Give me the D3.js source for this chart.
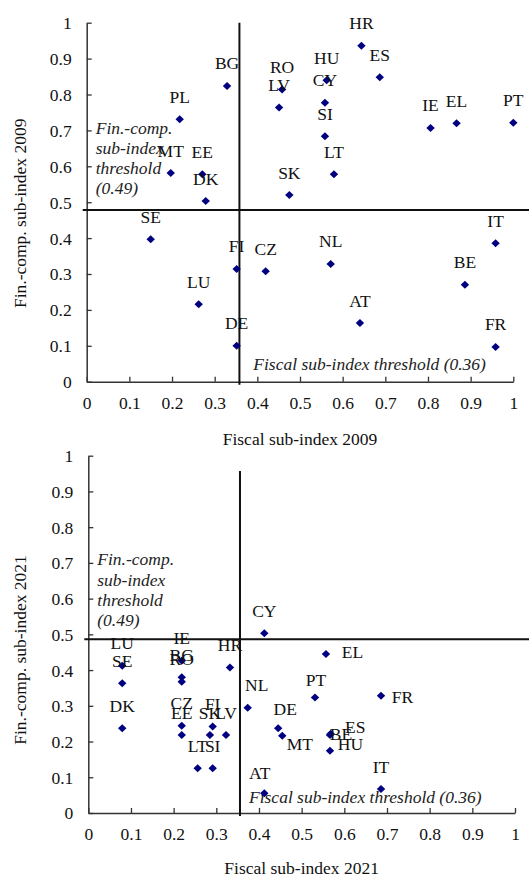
<!DOCTYPE html>
<html>
<head>
<meta charset="utf-8">
<script src="https://cdn.jsdelivr.net/npm/d3@7"></script>
<style>
  html, body { margin: 0; padding: 0; background: #fff; }
  svg { display: block; }
  text { font-family: "Liberation Serif", "Times New Roman", serif; }
</style>
</head>
<body>
<svg id="chart" width="529" height="879"></svg>
<script>
// ---------- Data ----------
const countries2009 = ["HR","ES","RO","LV","HU","CY","SI","LT","SK","IE","EL","PT","BG","PL","MT","EE","DK","SE","FI","LU","DE","CZ","IT","NL","BE","AT","FR"];
const fiscal2009    = [0.644,0.687,0.458,0.451,0.5625,0.5585,0.5585,0.5796,0.475,0.806,0.867,1.0,0.329,0.218,0.197,0.271,0.279,0.150,0.3515,0.2625,0.3515,0.4195,0.9585,0.572,0.8866,0.6405,0.9585];
const fincomp2009   = [0.936,0.848,0.814,0.764,0.840,0.777,0.684,0.578,0.520,0.707,0.720,0.721,0.824,0.731,0.581,0.578,0.503,0.397,0.314,0.2156,0.100,0.3075,0.3855,0.328,0.270,0.1635,0.0967];

const countries2021 = ["CY","LU","SE","DK","IE","BG","RO","CZ","EE","FI","SK","LV","LT","SI","HR","NL","DE","MT","AT","EL","PT","FR","ES","BE","HU","IT"];
const fiscal2021    = [0.4125,0.0795,0.0795,0.0795,0.219,0.219,0.219,0.219,0.219,0.2915,0.285,0.3227,0.2563,0.2915,0.332,0.3735,0.445,0.4546,0.4125,0.557,0.5313,0.686,0.568,0.5664,0.5664,0.686];
const fincomp2021   = [0.503,0.412,0.363,0.237,0.426,0.380,0.367,0.2445,0.218,0.242,0.218,0.218,0.125,0.125,0.407,0.2947,0.237,0.2163,0.055,0.445,0.3235,0.3283,0.222,0.218,0.1744,0.067];

const tickValues = [0,0.1,0.2,0.3,0.4,0.5,0.6,0.7,0.8,0.9,1];
const tickLabels = ["0","0.1","0.2","0.3","0.4","0.5","0.6","0.7","0.8","0.9","1"];

// threshold positions as drawn (fiscal, fin.-comp.)
const thresholds2009 = [0.358, 0.478];
const thresholds2021 = [0.3555, 0.486];
const fincompThresholdText = ["Fin.-comp.", "sub-index", "threshold", "(0.49)"];
const fiscalThresholdText = "Fiscal sub-index threshold (0.36)";

// ---------- Layout (label placement offsets in px, not data) ----------
const labelOffsets2021 = {
  NL: [9, -16.5], DE: [7, -13], MT: [17.5, 14.5], AT: [-4.5, -14],
  EL: [26.5, 3.5], PT: [1, -11], FR: [21.5, 7.5], ES: [24.5, -1],
  BE: [11, 5], HU: [20.5, -0.5]
};
const FS = 17.5;
const svg = d3.select("#chart");

function panel(cfg) {
  const x = d3.scaleLinear().domain([0, 1]).range(cfg.xr);
  const y = d3.scaleLinear().domain([0, 1]).range(cfg.yr);
  const g = svg.append("g");

  // axes
  const xAxis = d3.axisBottom(x).tickValues(tickValues)
    .tickFormat((d, i) => tickLabels[i]).tickSizeInner(-5).tickSizeOuter(0).tickPadding(15);
  const yAxis = d3.axisLeft(y).tickValues(tickValues)
    .tickFormat((d, i) => tickLabels[i]).tickSizeInner(-5).tickSizeOuter(0).tickPadding(15);

  const gx = g.append("g").attr("transform", `translate(0,${cfg.yr[0]})`).call(xAxis);
  const gy = g.append("g").attr("transform", `translate(${cfg.xr[0]},0)`).call(yAxis);
  [gx, gy].forEach(a => {
    a.selectAll("path.domain").attr("stroke", "#333").attr("stroke-width", 1.5);
    a.selectAll(".tick line").attr("stroke", "#333").attr("stroke-width", 1.3);
    a.selectAll(".tick text").attr("font-size", FS).attr("fill", "#111")
      .style("font-family", '"Liberation Serif", serif');
  });
  gy.selectAll(".tick text").attr("dy", "0.34em");

  // threshold lines
  g.append("line")
    .attr("x1", x(0) - 4).attr("x2", 529)
    .attr("y1", y(cfg.th[1])).attr("y2", y(cfg.th[1]))
    .attr("stroke", "#111").attr("stroke-width", 2);
  g.append("line")
    .attr("x1", x(cfg.th[0])).attr("x2", x(cfg.th[0]))
    .attr("y1", y(cfg.vTop)).attr("y2", y(0) + 3)
    .attr("stroke", "#111").attr("stroke-width", 2);

  // threshold annotations
  const ft = g.append("text")
    .attr("x", x(0) + cfg.finDx).attr("y", y(cfg.th[1]) - cfg.finDy)
    .attr("font-size", FS).attr("font-style", "italic").attr("fill", "#222");
  fincompThresholdText.forEach((t, i) => {
    ft.append("tspan").attr("x", x(0) + cfg.finDx).attr("dy", i === 0 ? 0 : 20.3).text(t);
  });
  g.append("text")
    .attr("x", cfg.fisX).attr("y", y(0) - cfg.fisDy)
    .attr("font-size", FS).attr("font-style", "italic").attr("fill", "#222")
    .text(fiscalThresholdText);

  // points
  const data = cfg.names.map((n, i) => ({ n, fx: cfg.fx[i], fy: cfg.fy[i] }));
  const diamond = (cx, cy) => `M${cx},${cy - 4}L${cx + 4.2},${cy}L${cx},${cy + 4}L${cx - 4.2},${cy}Z`;
  g.append("g").selectAll("path").data(data).join("path")
    .attr("d", d => diamond(x(d.fx), y(d.fy)))
    .attr("fill", "#000080");

  g.append("g").selectAll("text").data(data).join("text")
    .attr("x", d => x(d.fx) + ((cfg.offsets[d.n] || [0, -16.5])[0]))
    .attr("y", d => y(d.fy) + ((cfg.offsets[d.n] || [0, -16.5])[1]))
    .attr("text-anchor", "middle").attr("font-size", FS).attr("fill", "#111")
    .text(d => d.n);

  // axis titles
  g.append("text")
    .attr("x", (cfg.xr[0] + cfg.xr[1]) / 2).attr("y", y(0) + cfg.xtDy)
    .attr("text-anchor", "middle").attr("font-size", FS).attr("fill", "#111")
    .text(cfg.xTitle);
  g.append("text")
    .attr("transform", `translate(25.5,${cfg.ytY}) rotate(-90)`)
    .attr("text-anchor", "middle").attr("font-size", FS).attr("fill", "#111")
    .text(cfg.yTitle);
}

panel({
  xr: [86.7, 513.3], yr: [381.7, 22.7], th: thresholds2009, vTop: 1,
  names: countries2009, fx: fiscal2009, fy: fincomp2009, offsets: {},
  finDx: 9, finDy: 76.5, fisX: 253.3, fisDy: 11.7, xtDy: 63.5, ytY: 213.3,
  xTitle: "Fiscal sub-index 2009", yTitle: "Fin.-comp. sub-index 2009"
});
panel({
  xr: [88.3, 515], yr: [813, 455.7], th: thresholds2021, vTop: 0.957,
  names: countries2021, fx: fiscal2021, fy: fincomp2021, offsets: labelOffsets2021,
  finDx: 9, finDy: 74, fisX: 249, fisDy: 10.3, xtDy: 60.5, ytY: 650,
  xTitle: "Fiscal sub-index 2021", yTitle: "Fin.-comp. sub-index 2021"
});
</script>
</body>
</html>
